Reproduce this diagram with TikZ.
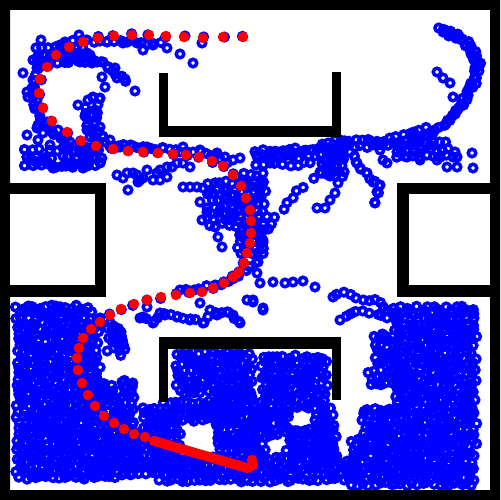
\documentclass[tikz,border=0pt]{standalone}
\definecolor{treeblue}{RGB}{0,0,255}
\definecolor{pathred}{RGB}{255,0,0}
\tikzset{
  ring/.style={draw=treeblue, line width=0.07cm},
}
\newcommand\ringr{0.075cm}
\newcommand\blobfill[5][5.5]{%
  \pgfmathtruncatemacro\bfnx{(#4-#2)/#1}%
  \pgfmathtruncatemacro\bfny{(#5-#3)/#1}%
  \foreach \bfi in {0,...,\bfnx}{%
    \foreach \bfj in {0,...,\bfny}{%
      \draw[ring] ({#2+\bfi*#1+mod(\bfj,2)*#1/2+2*rand},{#3+\bfj*#1+2*rand}) circle[radius=\ringr];
    }}}
\newcommand\chain[2]{%
  \foreach \cx/\cy [remember=\cx as \lastx (initially 0), remember=\cy as \lasty (initially 0), count=\ck] in {#2}{%
    \ifnum\ck>1
      \pgfmathsetmacro\seglen{veclen(\cx-\lastx,\cy-\lasty)}%
      \pgfmathtruncatemacro\nseg{max(1,round(\seglen/#1))}%
      \foreach \s in {1,...,\nseg}{%
        \draw[ring] ({\lastx+(\cx-\lastx)*\s/\nseg+1.5*rand},{\lasty+(\cy-\lasty)*\s/\nseg+1.5*rand}) circle[radius=\ringr];}%
    \else
      \draw[ring] (\cx,\cy) circle[radius=\ringr];
    \fi}}
\newcommand\redlist{243/37,223/37,203/38,184/37,166/36,149/35,132/35,114/36,98/38,83/42,69/47,56/55,47/67,40/79,39/93,43/108,52/121,67/132,81/141,96/146,113/149,128/151,143/152,158/153,173/154,186/155,199/157,212/161,223/166,233/175,241/186,246/198,250/210,251/221,251/233,250/243,247/253,244/263,239/272,233/277,224/283,213/288,202/292,190/293,176/295,161/297,147/300,134/304,121/309,110/315,100/322,91/329,83/338,79/348,77/358,78/370,82/383,88/395,95/406,104/416,114/423,124/429,134/434,145/437}
\begin{document}
\begin{tikzpicture}[x=0.02cm,y=-0.02cm]
\pgfmathsetseed{7}
\useasboundingbox (0,0) rectangle (500,500);
\fill[white] (0,0) rectangle (500,500);

% ---------- single tree nodes ----------
\foreach \x/\y in {41/40,79/35,65/42,107/42,123/43,137/43,153/45,143/50,167/48,180/54,193/63,202/43,57/53,38/58,37/68,67/57,80/62,90/55,97/62,103/62,108/68,115/68,117/78,125/79,102/77,105/87,135/91,23/73,32/88,28/97,38/108,78/105,85/116,93/98,100/98,95/110,95/122,100/127,103/137,90/137,110/140,115/148,38/125,27/135,38/140,50/145,52/132,63/148,80/153,87/157,97/152,100/163,27/157,37/163,43/160,53/168,68/164,83/168,58/55,67/50,73/58,78/53,87/53,85/58,92/63,33/60,40/65,33/80,27/92,37/100,40/110,47/122,37/128,53/133,43/133,58/130,63/140,87/130,83/147,93/147,77/157,
120/147,133/146,147/147,163/148,183/147,200/150,217/153,225/157,233/160,240/158,
127/173,137/175,147/170,157/173,167/167,128/190,138/182,153/180,160/180,167/177,123/178,143/178,117/175,133/173,140/180,160/170,172/167,177/163,183/163,190/167,
183/187,190/187,197/187,203/188,200/202,207/212,202/220,215/227,218/237,222/247,
257/155,273/153,287/155,
258/262,257/273,260/283,273/282,285/283,293/282,303/281,315/287,253/300,263/308,
200/303,210/310,217/315,227/312,233/315,240/323,203/323,190/320,177/317,165/315,153/323,143/317,247/300,253/302,263/310,147/307,160/313,
437/72,443/78,450/83,453/97,
393/142,397/152,407/157,420/160,437/160,447/167,457/157,457/167,472/153,473/168,413/145,420/153,430/145,433/133,440/157,453/157,455/152,
357/163,360/168,367/173,373/182,380/185,377/192,375/203,377/143,380/150,383/160,387/163,382/145,
338/183,335/193,330/200,325/208,317/208,330/170,335/176}
  {\draw[ring] (\x,\y) circle[radius=\ringr];}

% ---------- tree branches ----------
\chain{5}{257/156,283/153,300/151,317/149,335/147,350/146,367/146,383/146,400/143,417/139,430/133,440/127,450/118,458/108,463/98,470/88,473/77,477/62,470/50,463/40,450/33,438/27}
\chain{6}{445/30,458/35,468/42,475/52,480/62,478/72,475/82,468/95,463/105,455/115,446/123}
\chain{6}{335/140,350/140,367/141,383/140,397/137,410/133,425/127}
\chain{6}{443/32,457/37,467/44,474/55}
\chain{9}{320/172,313/178,303/187,292/197,283/208,275/218,268/230,263/242}
\chain{8}{350/152,357/163,367/173,375/182,380/187,377/193,375/203}
\chain{6}{57/52,45/60,35/75,32/92,36/110,45/125,60/138,80/147,100/150}
\chain{7}{60/45,80/40,100/42,120/40,140/42,160/44}
\chain{7}{65/52,80/58,95/60,108/66,116/74,125/80}
\chain{7}{93/97,100/100,96/112,95/124,100/132,105/142,112/150}
\chain{7}{88/100,85/112,88/125,95/135,100/145}
\chain{7}{27/157,37/162,45/160,53/167,68/164,83/167,90/160,100/163}
\chain{6}{113/146,130/146,150/148,175/150,200/152,215/156,228/163}
\chain{8}{140/318,153/322,165/315,177/317,190/318,203/322,215/313,228/313,240/322}
\chain{7}{180/290,200/288,222/285,240/275,255/262}
\chain{6}{333/297,343/293,357/297,370/300,380/302,387/310,395/315}
\chain{6}{340/320,350/313,363/312,377/315,387/318,395/322}
\chain{5}{100/318,110/322,118/330,123/340,125/350,122/355}

% ---------- dense regions ----------
\blobfill[7]{35}{48}{85}{62}
\blobfill[8]{25}{150}{100}{166}
\blobfill[6]{238}{175}{262}{255}
\blobfill[6]{208}{183}{236}{225}
\blobfill[7]{255}{150}{312}{166}
\blobfill[5]{322}{145}{346}{176}
\blobfill[7]{397}{143}{447}{162}
% bottom left
\blobfill{17}{307}{90}{478}
\blobfill{90}{328}{100}{400}
\blobfill{108}{327}{124}{350}
\blobfill{100}{385}{116}{405}
\blobfill{120}{382}{136}{452}
\blobfill{90}{405}{120}{478}
\blobfill{118}{440}{160}{478}
\blobfill{143}{408}{168}{440}
% bottom middle
\blobfill{177}{353}{250}{392}
\blobfill{217}{390}{255}{455}
\blobfill{262}{357}{290}{412}
\blobfill{296}{357}{325}{410}
\blobfill{315}{410}{335}{462}
\blobfill{288}{430}{335}{462}
\blobfill{250}{412}{262}{462}
\blobfill{262}{412}{288}{435}
\blobfill{160}{458}{340}{482}
\blobfill{165}{403}{235}{423}
\blobfill{160}{428}{180}{458}
% bottom right
\blobfill{395}{308}{475}{485}
\blobfill{375}{335}{395}{365}
\blobfill{370}{372}{395}{388}
\blobfill{363}{410}{395}{440}
\blobfill{352}{440}{395}{485}
\blobfill{340}{462}{352}{482}

% ---------- path (red) ----------
\foreach \x/\y in \redlist {\draw[ring] ({\x+1.5*rand},{\y+1.5*rand}) circle[radius=\ringr];}
\foreach \x/\y in \redlist {\fill[pathred] (\x,\y) circle[radius=0.105cm];}
\foreach \t in {0,...,31} {\fill[pathred] ({154+3*\t},{441+0.87*\t}) circle[radius=0.105cm];}
\foreach \x/\y in {252/460,253/465,250/467} {\fill[pathred] (\x,\y) circle[radius=0.105cm];}

% ---------- walls ----------
\fill[black, even odd rule] (0,0) rectangle (500,500) (10,10) rectangle (490,490);
\fill[black] (0,183) rectangle (106,297);
\fill[white] (10,194) rectangle (95,285);
\fill[black] (397,183) rectangle (500,297);
\fill[white] (409,194) rectangle (490,285);
\fill[black] (159,73) rectangle (168,137);
\fill[black] (159,126) rectangle (341,137);
\fill[black] (332,72) rectangle (341,137);
\fill[black] (159,337) rectangle (341,349);
\fill[black] (159,337) rectangle (168,402);
\fill[black] (332,337) rectangle (341,400);
\end{tikzpicture}
\end{document}
